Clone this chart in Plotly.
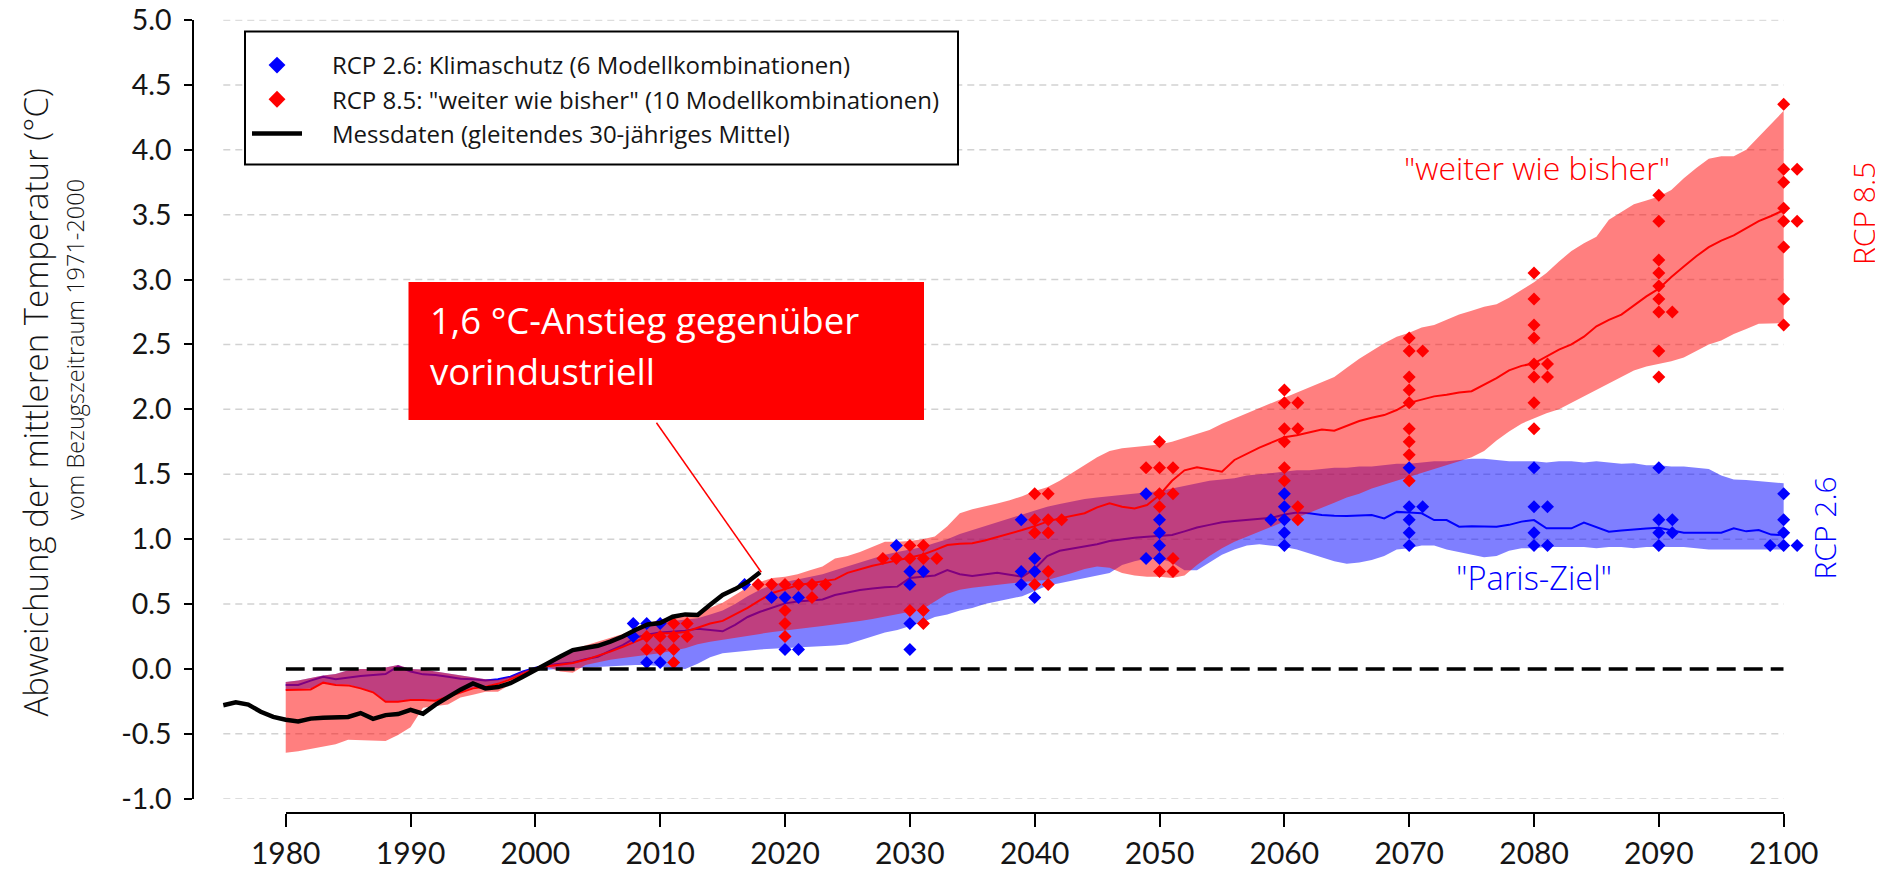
import plotly.graph_objects as go

# ---------------------------------------------------------------- data
years = list(range(1980, 2101))

rcp85_mean = [
    -0.163, -0.160, -0.158, -0.106, -0.124, -0.127, -0.150, -0.180, -0.253, -0.253,
    -0.240, -0.240, -0.245, -0.214, -0.180, -0.150, -0.137, -0.115, -0.080, -0.040,
    0.004, 0.020, 0.030, 0.045, 0.070, 0.100, 0.133, 0.170, 0.210, 0.250,
    0.274, 0.275, 0.285, 0.320, 0.350, 0.370, 0.420, 0.470, 0.530, 0.585,
    0.615, 0.645, 0.660, 0.675, 0.690, 0.740, 0.770, 0.795, 0.815, 0.835,
    0.855, 0.880, 0.915, 0.955, 0.965, 0.968, 0.990, 1.015, 1.040, 1.070,
    1.100, 1.135, 1.160, 1.180, 1.200, 1.245, 1.276, 1.250, 1.237, 1.263,
    1.340, 1.450, 1.530, 1.553, 1.535, 1.520, 1.610, 1.660, 1.705, 1.745,
    1.785, 1.800, 1.825, 1.845, 1.835, 1.870, 1.910, 1.935, 1.956, 1.995,
    2.050, 2.075, 2.100, 2.112, 2.130, 2.140, 2.190, 2.240, 2.300, 2.335,
    2.355, 2.405, 2.460, 2.500, 2.560, 2.640, 2.690, 2.730, 2.800, 2.870,
    2.930, 3.020, 3.100, 3.180, 3.250, 3.300, 3.340, 3.395, 3.450, 3.490,
    3.535]

rcp85_upper = [
    -0.100, -0.090, -0.070, -0.050, -0.040, -0.010, 0.000, 0.000, 0.010, 0.030,
    0.000, -0.005, -0.020, -0.035, -0.050, -0.060, -0.080, -0.085, -0.060, -0.020,
    0.010, 0.050, 0.100, 0.150, 0.180, 0.210, 0.240, 0.270, 0.310, 0.350,
    0.380, 0.400, 0.420, 0.430, 0.470, 0.510, 0.570, 0.630, 0.670, 0.700,
    0.710, 0.730, 0.760, 0.790, 0.850, 0.870, 0.900, 0.940, 0.980, 0.980,
    0.985, 1.000, 1.020, 1.100, 1.200, 1.230, 1.250, 1.275, 1.300, 1.330,
    1.370, 1.400, 1.450, 1.510, 1.570, 1.630, 1.680, 1.700, 1.710, 1.720,
    1.730, 1.750, 1.780, 1.810, 1.840, 1.890, 1.930, 1.970, 2.010, 2.050,
    2.090, 2.130, 2.170, 2.210, 2.250, 2.320, 2.390, 2.450, 2.510, 2.560,
    2.590, 2.630, 2.650, 2.690, 2.730, 2.760, 2.790, 2.810, 2.860, 2.920,
    2.980, 3.050, 3.140, 3.220, 3.280, 3.330, 3.460, 3.520, 3.580, 3.610,
    3.640, 3.690, 3.780, 3.860, 3.930, 3.950, 3.950, 4.000, 4.100, 4.200,
    4.300]

rcp85_lower = [
    -0.645, -0.635, -0.620, -0.600, -0.580, -0.545, -0.548, -0.552, -0.555, -0.510,
    -0.450, -0.300, -0.285, -0.275, -0.220, -0.200, -0.175, -0.175, -0.120, -0.050,
    -0.010, 0.015, -0.020, -0.030, 0.030, 0.050, 0.070, 0.085, 0.100, 0.110,
    0.120, 0.140, 0.160, 0.190, 0.210, 0.230, 0.245, 0.255, 0.270, 0.285,
    0.300, 0.310, 0.320, 0.330, 0.340, 0.355, 0.370, 0.385, 0.400, 0.420,
    0.440, 0.460, 0.520, 0.580, 0.610, 0.625, 0.640, 0.650, 0.660, 0.670,
    0.680, 0.685, 0.710, 0.740, 0.770, 0.790, 0.780, 0.740, 0.720, 0.710,
    0.710, 0.700, 0.720, 0.800, 0.870, 0.930, 0.980, 1.020, 1.055, 1.095,
    1.135, 1.165, 1.200, 1.240, 1.280, 1.320, 1.350, 1.390, 1.420, 1.450,
    1.480, 1.510, 1.540, 1.570, 1.600, 1.630, 1.680, 1.760, 1.830, 1.890,
    1.930, 1.970, 2.000, 2.050, 2.100, 2.150, 2.200, 2.250, 2.300, 2.330,
    2.350, 2.370, 2.400, 2.450, 2.500, 2.530, 2.580, 2.620, 2.660, 2.665,
    2.665]

rcp26_mean = [
    -0.124, -0.124, -0.090, -0.060, -0.080, -0.065, -0.055, -0.047, -0.040, 0.020,
    -0.020, -0.042, -0.047, -0.060, -0.075, -0.080, -0.090, -0.080, -0.060, -0.020,
    0.010, 0.030, 0.040, 0.050, 0.075, 0.094, 0.140, 0.184, 0.240, 0.265,
    0.280, 0.287, 0.295, 0.310, 0.300, 0.290, 0.340, 0.400, 0.440, 0.470,
    0.505, 0.520, 0.530, 0.535, 0.570, 0.590, 0.608, 0.620, 0.630, 0.634,
    0.700, 0.710, 0.720, 0.762, 0.730, 0.716, 0.730, 0.740, 0.725, 0.710,
    0.770, 0.870, 0.910, 0.925, 0.942, 0.960, 0.985, 1.000, 1.010, 1.019,
    1.025, 1.032, 1.060, 1.090, 1.110, 1.130, 1.140, 1.147, 1.155, 1.165,
    1.190, 1.205, 1.200, 1.186, 1.180, 1.178, 1.182, 1.186, 1.160, 1.210,
    1.205, 1.199, 1.147, 1.147, 1.096, 1.100, 1.098, 1.096, 1.110, 1.135,
    1.147, 1.083, 1.083, 1.083, 1.127, 1.090, 1.057, 1.066, 1.076, 1.082,
    1.088, 1.070, 1.050, 1.050, 1.050, 1.050, 1.083, 1.060, 1.070, 1.035,
    1.031]

rcp26_upper = [
    -0.100, -0.090, -0.070, -0.050, -0.040, -0.010, 0.000, 0.000, 0.010, 0.030,
    0.000, -0.005, -0.020, -0.035, -0.050, -0.060, -0.080, -0.085, -0.060, -0.020,
    0.010, 0.040, 0.080, 0.130, 0.160, 0.190, 0.220, 0.250, 0.290, 0.330,
    0.360, 0.370, 0.380, 0.390, 0.420, 0.450, 0.500, 0.560, 0.610, 0.650,
    0.670, 0.690, 0.710, 0.730, 0.760, 0.790, 0.820, 0.850, 0.880, 0.900,
    0.920, 0.940, 0.970, 1.000, 1.040, 1.070, 1.100, 1.130, 1.160, 1.190,
    1.220, 1.250, 1.270, 1.290, 1.310, 1.320, 1.330, 1.340, 1.350, 1.360,
    1.370, 1.390, 1.410, 1.430, 1.450, 1.460, 1.470, 1.490, 1.500, 1.510,
    1.520, 1.530, 1.530, 1.540, 1.550, 1.550, 1.560, 1.560, 1.570, 1.580,
    1.580, 1.590, 1.600, 1.600, 1.610, 1.620, 1.620, 1.610, 1.600, 1.600,
    1.600, 1.590, 1.600, 1.600, 1.590, 1.600, 1.590, 1.580, 1.585, 1.570,
    1.570, 1.560, 1.560, 1.550, 1.540, 1.490, 1.460, 1.455, 1.445, 1.440,
    1.430]

rcp26_lower = [
    -0.160, -0.155, -0.150, -0.100, -0.120, -0.120, -0.145, -0.175, -0.250, -0.250,
    -0.235, -0.235, -0.240, -0.210, -0.175, -0.145, -0.130, -0.110, -0.075, -0.040,
    -0.010, 0.000, 0.005, 0.010, 0.010, 0.015, 0.020, 0.025, 0.030, 0.030,
    0.020, 0.005, 0.000, 0.040, 0.090, 0.120, 0.130, 0.140, 0.150, 0.160,
    0.160, 0.165, 0.170, 0.175, 0.180, 0.190, 0.220, 0.250, 0.280, 0.300,
    0.330, 0.360, 0.400, 0.420, 0.450, 0.470, 0.500, 0.520, 0.540, 0.560,
    0.600, 0.640, 0.660, 0.680, 0.700, 0.720, 0.740, 0.800, 0.830, 0.850,
    0.850, 0.820, 0.760, 0.760, 0.820, 0.880, 0.920, 0.950, 0.960, 0.950,
    0.940, 0.920, 0.890, 0.860, 0.830, 0.810, 0.820, 0.840, 0.870, 0.920,
    0.930, 0.950, 0.950, 0.920, 0.900, 0.880, 0.860, 0.870, 0.910, 0.930,
    0.930, 0.940, 0.940, 0.940, 0.940, 0.930, 0.940, 0.940, 0.930, 0.940,
    0.940, 0.940, 0.940, 0.930, 0.920, 0.920, 0.920, 0.920, 0.920, 0.920,
    0.920]

obs_years = list(range(1975, 2019))
obs_values = [
    -0.280, -0.258, -0.275, -0.330, -0.370, -0.392, -0.405, -0.383, -0.376, -0.372,
    -0.370, -0.340, -0.385, -0.356, -0.348, -0.315, -0.345, -0.275, -0.215, -0.160,
    -0.112, -0.150, -0.140, -0.110, -0.060, -0.005, 0.045, 0.095, 0.145, 0.158,
    0.178, 0.210, 0.250, 0.300, 0.343, 0.353, 0.402, 0.420, 0.415, 0.495,
    0.570, 0.615, 0.670, 0.745]

rcp26_marker_years = ([2010] * 6 + [2020] * 6 + [2030] * 6 + [2040] * 6 + [2050] * 6 +
                      [2060] * 6 + [2070] * 6 + [2080] * 6 + [2090] * 6 + [2100] * 6)
rcp26_marker_values = [
    0.35, 0.35, 0.35, 0.25, 0.05, 0.05,
    0.65, 0.55, 0.55, 0.55, 0.15, 0.15,
    0.95, 0.75, 0.75, 0.65, 0.35, 0.15,
    1.15, 0.85, 0.75, 0.75, 0.65, 0.55,
    1.35, 1.15, 1.05, 0.95, 0.85, 0.85,
    1.35, 1.25, 1.15, 1.15, 1.05, 0.95,
    1.55, 1.25, 1.25, 1.15, 1.05, 0.95,
    1.55, 1.25, 1.25, 1.05, 0.95, 0.95,
    1.55, 1.15, 1.15, 1.05, 1.05, 0.95,
    1.35, 1.15, 1.05, 0.95, 0.95, 0.95]

rcp85_marker_years = ([2010] * 10 + [2020] * 10 + [2030] * 10 + [2040] * 10 + [2050] * 10 +
                      [2060] * 10 + [2070] * 10 + [2080] * 10 + [2090] * 10 + [2100] * 10)
rcp85_marker_values = [
    0.35, 0.35, 0.25, 0.25, 0.25, 0.25, 0.15, 0.15, 0.15, 0.05,
    0.65, 0.65, 0.65, 0.65, 0.65, 0.65, 0.55, 0.45, 0.35, 0.25,
    0.95, 0.95, 0.85, 0.85, 0.85, 0.85, 0.85, 0.45, 0.45, 0.35,
    1.35, 1.35, 1.15, 1.15, 1.15, 1.05, 1.05, 0.75, 0.65, 0.65,
    1.75, 1.55, 1.55, 1.55, 1.35, 1.35, 1.25, 0.85, 0.75, 0.75,
    2.15, 2.05, 2.05, 1.85, 1.85, 1.75, 1.55, 1.45, 1.25, 1.15,
    2.55, 2.45, 2.45, 2.25, 2.15, 2.05, 1.85, 1.75, 1.65, 1.45,
    3.05, 2.85, 2.65, 2.55, 2.35, 2.35, 2.25, 2.25, 2.05, 1.85,
    3.65, 3.45, 3.15, 3.05, 2.95, 2.85, 2.75, 2.75, 2.45, 2.25,
    4.35, 3.85, 3.85, 3.75, 3.55, 3.45, 3.45, 3.25, 2.85, 2.65]

baseline_years = [1980, 2100]
baseline_values = [0.0, 0.0]

ytick_vals = [-1.0, -0.5, 0.0, 0.5, 1.0, 1.5, 2.0, 2.5, 3.0, 3.5, 4.0, 4.5, 5.0]
ytick_text = ["-1.0", "-0.5", "0.0", "0.5", "1.0", "1.5", "2.0", "2.5", "3.0", "3.5", "4.0", "4.5", "5.0"]
xtick_vals = [1980, 1990, 2000, 2010, 2020, 2030, 2040, 2050, 2060, 2070, 2080, 2090, 2100]
grid_vals = [v for v in ytick_vals if v != 0.0]

name26 = "RCP 2.6: Klimaschutz (6 Modellkombinationen)"
name85 = 'RCP 8.5: "weiter wie bisher" (10 Modellkombinationen)'
name_obs = "Messdaten (gleitendes 30-jähriges Mittel)"

# ---------------------------------------------------------------- layout helpers
W, H = 1883, 872
OFF = 8          # the page body adds an 8px margin; layout positions below are screen pixels
FONT = "Open Sans"
TICKFONT = "Lato"
INDENT = "\u00a0" * 4


def fx(px):
    return (px - OFF) / W


def fy(py):
    return 1 - (py - OFF) / H


# side-by-side placement of markers that share a decade and value (blue first, then red)
SLOT = 1.08


def spread(years_a, vals_a, years_b, vals_b):
    entries = [(y, v) for y, v in zip(years_a, vals_a)] + [(y, v) for y, v in zip(years_b, vals_b)]
    groups = {}
    for i, (y, v) in enumerate(entries):
        groups.setdefault((y, round(v, 2)), []).append(i)
    xs = [0.0] * len(entries)
    for (y, _), idx in groups.items():
        k0 = -((len(idx) - 1) // 2)
        for j, i in enumerate(idx):
            xs[i] = y + (k0 + j) * SLOT
    return xs[:len(years_a)], xs[len(years_a):]


x26, x85 = spread(rcp26_marker_years, rcp26_marker_values, rcp85_marker_years, rcp85_marker_values)

BLUE = "#0000ff"
RED = "#ff0000"
TXT = "#151515"

fig = go.Figure()

fig.add_trace(go.Scatter(x=years + years[::-1], y=rcp26_upper + rcp26_lower[::-1], mode="lines",
                         fill="toself", fillcolor="rgba(0,0,255,0.5)", line=dict(width=0),
                         showlegend=False, hoverinfo="skip"))
fig.add_trace(go.Scatter(x=years, y=rcp26_mean, mode="lines", line=dict(color=BLUE, width=2),
                         showlegend=False, hoverinfo="skip"))
fig.add_trace(go.Scatter(x=years + years[::-1], y=rcp85_upper + rcp85_lower[::-1], mode="lines",
                         fill="toself", fillcolor="rgba(255,0,0,0.5)", line=dict(width=0),
                         showlegend=False, hoverinfo="skip"))
fig.add_trace(go.Scatter(x=years, y=rcp85_mean, mode="lines", line=dict(color=RED, width=2),
                         showlegend=False, hoverinfo="skip"))
fig.add_trace(go.Scatter(x=x26, y=rcp26_marker_values, mode="markers", cliponaxis=False,
                         marker=dict(symbol="diamond", size=10, color=BLUE, line=dict(width=0)),
                         showlegend=False, hoverinfo="skip"))
fig.add_trace(go.Scatter(x=x85, y=rcp85_marker_values, mode="markers", cliponaxis=False,
                         marker=dict(symbol="diamond", size=10, color=RED, line=dict(width=0)),
                         showlegend=False, hoverinfo="skip"))
fig.add_trace(go.Scatter(x=obs_years, y=obs_values, mode="lines", name=INDENT + name_obs, legendrank=3,
                         line=dict(color="black", width=4.5), hoverinfo="skip"))
# legend entries for the two scenario marker sets
fig.add_trace(go.Scatter(x=[None], y=[None], mode="markers", name=INDENT + name26, legendrank=1,
                         marker=dict(symbol="diamond", size=13, color=BLUE)))
fig.add_trace(go.Scatter(x=[None], y=[None], mode="markers", name=INDENT + name85, legendrank=2,
                         marker=dict(symbol="diamond", size=13, color=RED)))
# zero reference line, drawn on the detached 1980-2100 time axis
fig.add_trace(go.Scatter(x=baseline_years, y=baseline_values, xaxis="x2", yaxis="y", mode="lines",
                         line=dict(color="black", width=3.5, dash="19px,8px"),
                         showlegend=False, hoverinfo="skip"))

shapes = []
for g in grid_vals:
    shapes.append(dict(type="line", xref="x", yref="y", x0=1975, x1=2100, y0=g, y1=g, layer="below",
                       line=dict(color="#d2d2d2", width=1.5, dash="7px,5px")))
# legend frame
shapes.append(dict(type="rect", xref="paper", yref="paper", x0=fx(245), x1=fx(958), y0=fy(164.5), y1=fy(31.5),
                   line=dict(color="black", width=2), fillcolor="white", layer="above"))
# callout box and pointer
shapes.append(dict(type="rect", xref="paper", yref="paper", x0=fx(408.5), x1=fx(924), y0=fy(420), y1=fy(282),
                   line=dict(width=0), fillcolor=RED, layer="above"))
shapes.append(dict(type="line", xref="x", yref="y", x0=2009.7, y0=1.897, x1=2018.1, y1=0.745,
                   line=dict(color=RED, width=1.5), layer="above"))

annotations = [
    dict(text="Abweichung der mittleren Temperatur (°C)", x=fx(35), y=fy(402.5), xref="paper", yref="paper",
         textangle=-90, showarrow=False, xanchor="center", yanchor="middle",
         font=dict(family=FONT, size=33, color=TXT, weight=300)),
    dict(text="vom Bezugszeitraum 1971-2000", x=fx(75), y=fy(350), xref="paper", yref="paper",
         textangle=-90, showarrow=False, xanchor="center", yanchor="middle",
         font=dict(family=FONT, size=23.5, color=TXT, weight=300)),
    dict(text='"weiter wie bisher"', x=fx(1537), y=fy(167), xref="paper", yref="paper",
         showarrow=False, xanchor="center", yanchor="middle",
         font=dict(family=FONT, size=32, color=RED, weight=300)),
    dict(text='"Paris-Ziel"', x=fx(1533.5), y=fy(577), xref="paper", yref="paper",
         showarrow=False, xanchor="center", yanchor="middle",
         font=dict(family=FONT, size=32.5, color=BLUE, weight=300)),
    dict(text="RCP 8.5", x=fx(1864), y=fy(214), xref="paper", yref="paper", textangle=-90,
         showarrow=False, xanchor="center", yanchor="middle",
         font=dict(family=FONT, size=30, color=RED, weight=300)),
    dict(text="RCP 2.6", x=fx(1824), y=fy(528.5), xref="paper", yref="paper", textangle=-90,
         showarrow=False, xanchor="center", yanchor="middle",
         font=dict(family=FONT, size=30, color=BLUE, weight=300)),
    dict(text="1,6 °C-Anstieg gegenüber", x=fx(428), y=fy(320), xref="paper", yref="paper",
         showarrow=False, xanchor="left", yanchor="middle",
         font=dict(family=FONT, size=36.5, color="white")),
    dict(text="vorindustriell", x=fx(428), y=fy(371), xref="paper", yref="paper",
         showarrow=False, xanchor="left", yanchor="middle",
         font=dict(family=FONT, size=36.5, color="white")),
]

xtickfont = dict(family=TICKFONT, size=30, color=TXT, weight=400)
ytickfont = dict(family=TICKFONT, size=28.5, color=TXT, weight=400)

fig.update_layout(
    template="none",
    width=W, height=H, margin=dict(l=0, r=0, t=0, b=0, pad=0, autoexpand=False),
    paper_bgcolor="white", plot_bgcolor="rgba(0,0,0,0)",
    font=dict(family=FONT, color=TXT),
    showlegend=True,
    xaxis=dict(domain=[fx(217.06), fx(1821.12)], range=[1974.5, 2103], visible=False, fixedrange=True,
               automargin=False),
    xaxis2=dict(domain=[fx(285.7), fx(1783.7)], range=[1980, 2100], anchor="free", position=fy(813.3),
                tickvals=xtick_vals, ticks="outside", ticklen=13, tickwidth=2, tickcolor="black",
                showline=True, linecolor="black", linewidth=2, showgrid=False, zeroline=False,
                tickfont=xtickfont, ticklabelstandoff=1, ticklabeloverflow="allow",
                fixedrange=True, automargin=False),
    yaxis=dict(domain=[fy(798.7), fy(19.87)], range=[-1, 5.001], anchor="free", position=fx(193.3),
               tickvals=ytick_vals, ticktext=ytick_text, ticks="outside", ticklen=8, tickwidth=2,
               tickcolor="black", showline=True, linecolor="black", linewidth=2, showgrid=False,
               zeroline=False, tickfont=ytickfont, ticklabelstandoff=7, ticklabeloverflow="allow",
               fixedrange=True, automargin=False),
    legend=dict(x=fx(247), y=fy(43), xanchor="left", yanchor="top", bgcolor="rgba(0,0,0,0)",
                borderwidth=0, font=dict(family=FONT, size=24, color=TXT, weight=400),
                itemwidth=50, tracegroupgap=0, traceorder="normal"),
    shapes=shapes,
    annotations=annotations,
)

fig.write_html("out.html")
